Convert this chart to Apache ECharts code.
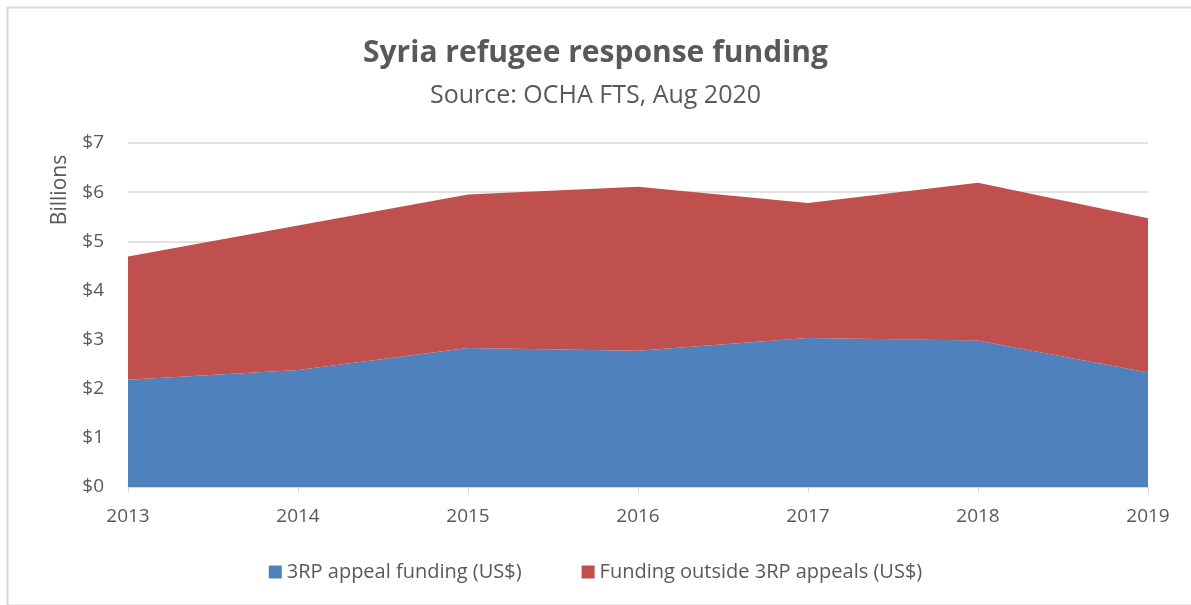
<!DOCTYPE html>
<html>
<head>
<meta charset="utf-8">
<script src="https://cdn.jsdelivr.net/npm/echarts@6/dist/echarts.min.js"></script>
<style>
  html, body { margin: 0; padding: 0; background: #fff; }
  #chart { width: 1191px; height: 605px; }
</style>
</head>
<body>
<div id="chart"></div>
<script>
// 数据
const years = ["2013", "2014", "2015", "2016", "2017", "2018", "2019"];
const appealFunding = [2.18, 2.38, 2.83, 2.77, 3.03, 2.98, 2.33];
const outsideFunding = [2.51, 2.94, 3.12, 3.34, 2.75, 3.21, 3.14];
const yTicks = [0, 1, 2, 3, 4, 5, 6, 7];

const fontFamily = "'Open Sans', sans-serif";
const textColor = "#595959";

const chart = echarts.init(document.getElementById("chart"));

const option = {
  animation: false,
  title: {
    text: "Syria refugee response funding",
    subtext: "Source: OCHA FTS, Aug 2020",
    left: "center",
    top: 33,
    itemGap: 15,
    textStyle: { fontFamily, fontSize: 30, fontWeight: "bold", color: textColor },
    subtextStyle: { fontFamily, fontSize: 25, color: textColor },
  },
  legend: {
    bottom: 18,
    left: "center",
    itemWidth: 13,
    itemHeight: 13,
    itemGap: 60,
    icon: "rect",
    textStyle: { fontFamily, fontSize: 20, color: textColor },
    data: ["3RP appeal funding (US$)", "Funding outside 3RP appeals (US$)"],
  },
  grid: { left: 128, right: 43, top: 143, bottom: 118 },
  xAxis: {
    type: "category",
    data: years,
    boundaryGap: false,
    axisLine: { lineStyle: { color: "#d9d9d9" } },
    axisTick: { show: true, alignWithLabel: true, length: 6, lineStyle: { color: "#d9d9d9" } },
    axisLabel: { fontFamily, fontSize: 19, color: textColor, margin: 20 },
  },
  yAxis: {
    type: "value",
    min: yTicks[0],
    max: yTicks[yTicks.length - 1],
    interval: 1,
    axisLine: { show: false },
    axisTick: { show: false },
    axisLabel: { fontFamily, fontSize: 19, color: textColor, margin: 24, formatter: (v) => "$" + v },
    splitLine: { lineStyle: { color: "#d9d9d9", width: 1.5 } },
  },
  graphic: [
    {
      type: "rect",
      left: 5, top: 5,
      shape: { width: 1200, height: 598 },
      style: { fill: "none", stroke: "#d9d9d9", lineWidth: 2 },
      silent: true,
    },
    {
      type: "text",
      x: 60, y: 190,
      rotation: Math.PI / 2,
      style: {
        text: "Billions",
        fontFamily, fontSize: 21, fill: textColor,
        align: "center", verticalAlign: "middle",
      },
    },
  ],
  series: [
    {
      name: "3RP appeal funding (US$)",
      type: "line",
      stack: "total",
      data: appealFunding,
      symbol: "none",
      lineStyle: { width: 0 },
      itemStyle: { color: "#4f81bd" },
      areaStyle: { color: "#4f81bd", opacity: 1 },
    },
    {
      name: "Funding outside 3RP appeals (US$)",
      type: "line",
      stack: "total",
      data: outsideFunding,
      symbol: "none",
      lineStyle: { width: 0 },
      itemStyle: { color: "#c0504d" },
      areaStyle: { color: "#c0504d", opacity: 1 },
    },
  ],
};

chart.setOption(option);
</script>
</body>
</html>
